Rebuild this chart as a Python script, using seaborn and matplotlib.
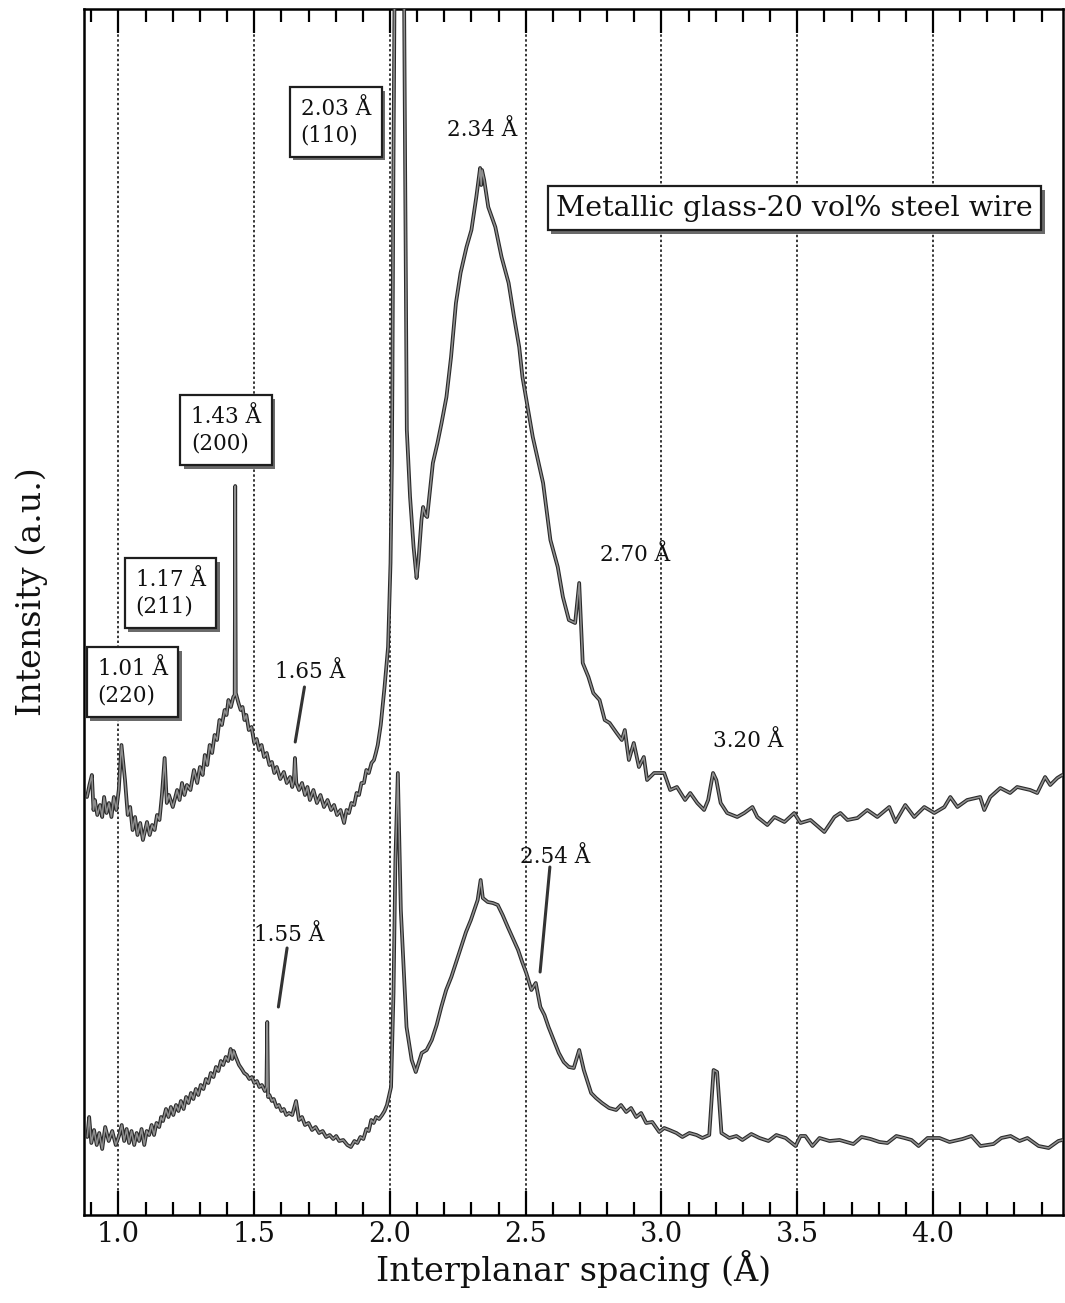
import matplotlib
matplotlib.use("Agg")
import matplotlib.pyplot as plt
import matplotlib.patheffects as pe
from matplotlib.ticker import FixedLocator
import pandas as pd
import seaborn as sns

# ---------------------------------------------------------------------------
# Diffraction profiles (d-spacing in Å, intensity in arbitrary units)
# ---------------------------------------------------------------------------
wire_d = [0.884, 0.893, 0.902, 0.908, 0.913, 0.922, 0.932, 0.940, 0.947, 0.956,
          0.965, 0.974, 0.983, 0.992, 1.001, 1.011, 1.024, 1.034, 1.043, 1.052,
          1.061, 1.070, 1.080, 1.090, 1.105, 1.115, 1.124, 1.133, 1.142, 1.151,
          1.160, 1.170, 1.178, 1.186, 1.200, 1.216, 1.225, 1.234, 1.243, 1.252,
          1.265, 1.278, 1.290, 1.300, 1.310, 1.318, 1.327, 1.336, 1.345, 1.354,
          1.363, 1.372, 1.381, 1.391, 1.398, 1.405, 1.414, 1.423, 1.428, 1.430,
          1.432, 1.442, 1.450, 1.457, 1.464, 1.471, 1.480, 1.490, 1.500, 1.509,
          1.518, 1.527, 1.536, 1.546, 1.556, 1.565, 1.574, 1.583, 1.596, 1.609,
          1.620, 1.632, 1.640, 1.646, 1.650, 1.655, 1.665, 1.676, 1.687, 1.696,
          1.705, 1.718, 1.731, 1.744, 1.757, 1.770, 1.783, 1.794, 1.805, 1.818,
          1.831, 1.840, 1.849, 1.858, 1.868, 1.877, 1.886, 1.895, 1.904, 1.913,
          1.922, 1.932, 1.941, 1.948, 1.955, 1.966, 1.980, 1.993, 2.002, 2.007,
          2.009, 2.012, 2.035, 2.055, 2.062, 2.074, 2.087, 2.098, 2.105, 2.116,
          2.122, 2.130, 2.137, 2.158, 2.175, 2.190, 2.208, 2.225, 2.243, 2.260,
          2.282, 2.300, 2.318, 2.332, 2.336, 2.339, 2.347, 2.362, 2.388, 2.411,
          2.437, 2.457, 2.476, 2.488, 2.507, 2.526, 2.545, 2.564, 2.591, 2.618,
          2.637, 2.659, 2.682, 2.697, 2.710, 2.731, 2.749, 2.772, 2.791, 2.809,
          2.835, 2.854, 2.865, 2.880, 2.898, 2.917, 2.935, 2.947, 2.973, 3.010,
          3.032, 3.057, 3.087, 3.106, 3.132, 3.157, 3.172, 3.190, 3.202, 3.218,
          3.242, 3.279, 3.305, 3.335, 3.353, 3.390, 3.416, 3.453, 3.489, 3.512,
          3.549, 3.600, 3.637, 3.659, 3.685, 3.722, 3.758, 3.795, 3.839, 3.862,
          3.898, 3.931, 3.968, 4.005, 4.042, 4.064, 4.090, 4.126, 4.174, 4.189,
          4.211, 4.248, 4.284, 4.310, 4.358, 4.384, 4.413, 4.432, 4.458, 4.476]
wire_int = [418, 430, 440, 405, 415, 400, 410, 398, 418, 402,
            412, 398, 418, 405, 425, 470, 435, 400, 408, 385,
            398, 380, 392, 375, 393, 380, 390, 385, 400, 395,
            420, 457, 412, 420, 408, 425, 415, 432, 420, 430,
            425, 445, 432, 448, 440, 460, 450, 470, 462, 480,
            475, 495, 490, 505, 500, 515, 508, 518, 520, 729,
            522, 512, 505, 508, 495, 500, 485, 488, 472, 476,
            465, 470, 458, 462, 450, 453, 442, 448, 436, 443,
            432, 438, 428, 435, 457, 432, 425, 432, 420, 428,
            415, 425, 412, 420, 408, 415, 405, 410, 400, 405,
            392, 405, 402, 412, 410, 422, 420, 432, 432, 445,
            442, 452, 455, 462, 470, 490, 528, 568, 652, 752,
            835, 1015, 2000, 1085, 785, 718, 668, 637, 655, 695,
            708, 700, 698, 752, 772, 792, 818, 858, 912, 942,
            968, 985, 1018, 1047, 1030, 1045, 1035, 1008, 988, 958,
            932, 898, 868, 838, 808, 778, 755, 732, 675, 648,
            618, 595, 592, 632, 552, 538, 522, 515, 495, 492,
            482, 475, 485, 455, 472, 448, 458, 435, 442, 442,
            425, 428, 415, 422, 412, 405, 415, 442, 435, 412,
            402, 398, 402, 408, 398, 390, 398, 393, 402, 392,
            395, 383, 398, 402, 395, 397, 405, 398, 408, 393,
            410, 398, 408, 402, 408, 418, 408, 415, 418, 405,
            418, 427, 422, 428, 425, 422, 438, 430, 437, 440]

glass_d = [0.885, 0.892, 0.900, 0.910, 0.920, 0.929, 0.940, 0.951, 0.964, 0.977,
           0.990, 1.003, 1.012, 1.021, 1.030, 1.039, 1.048, 1.058, 1.067, 1.076,
           1.085, 1.095, 1.104, 1.113, 1.122, 1.131, 1.140, 1.150, 1.157, 1.164,
           1.175, 1.184, 1.193, 1.202, 1.212, 1.221, 1.230, 1.240, 1.249, 1.258,
           1.267, 1.276, 1.285, 1.294, 1.303, 1.313, 1.322, 1.331, 1.340, 1.350,
           1.359, 1.368, 1.377, 1.386, 1.395, 1.404, 1.413, 1.419, 1.424, 1.432,
           1.444, 1.454, 1.463, 1.473, 1.482, 1.491, 1.500, 1.510, 1.519, 1.528,
           1.539, 1.545, 1.548, 1.551, 1.556, 1.565, 1.572, 1.582, 1.591, 1.600,
           1.609, 1.618, 1.628, 1.640, 1.654, 1.665, 1.676, 1.687, 1.700, 1.713,
           1.726, 1.739, 1.752, 1.765, 1.778, 1.791, 1.802, 1.813, 1.828, 1.843,
           1.856, 1.869, 1.880, 1.891, 1.902, 1.913, 1.922, 1.931, 1.940, 1.949,
           1.960, 1.971, 1.980, 1.989, 2.004, 2.013, 2.020, 2.029, 2.040, 2.061,
           2.080, 2.095, 2.117, 2.135, 2.154, 2.172, 2.189, 2.207, 2.226, 2.244,
           2.262, 2.280, 2.298, 2.313, 2.323, 2.334, 2.342, 2.360, 2.379, 2.397,
           2.415, 2.434, 2.452, 2.472, 2.487, 2.502, 2.521, 2.537, 2.554, 2.569,
           2.584, 2.603, 2.622, 2.640, 2.659, 2.677, 2.697, 2.714, 2.741, 2.759,
           2.781, 2.807, 2.833, 2.851, 2.870, 2.888, 2.907, 2.925, 2.944, 2.966,
           2.992, 3.010, 3.029, 3.055, 3.077, 3.103, 3.129, 3.151, 3.176, 3.192,
           3.205, 3.221, 3.250, 3.276, 3.298, 3.331, 3.361, 3.394, 3.423, 3.457,
           3.494, 3.512, 3.530, 3.556, 3.582, 3.619, 3.656, 3.707, 3.737, 3.770,
           3.803, 3.832, 3.865, 3.895, 3.921, 3.947, 3.980, 4.024, 4.061, 4.109,
           4.142, 4.175, 4.223, 4.252, 4.286, 4.319, 4.348, 4.389, 4.426, 4.462,
           4.476]
glass_int = [78, 98, 72, 85, 70, 82, 66, 88, 74, 84,
             70, 80, 90, 74, 86, 72, 84, 70, 82, 74,
             86, 70, 84, 80, 90, 80, 92, 88, 98, 94,
             106, 98, 108, 100, 110, 104, 114, 106, 118, 112,
             122, 116, 126, 120, 130, 126, 136, 132, 142, 138,
             148, 144, 154, 150, 158, 154, 166, 156, 164, 158,
             150, 146, 142, 140, 136, 138, 132, 134, 128, 130,
             124, 128, 193, 118, 120, 114, 116, 108, 110, 104,
             106, 100, 102, 100, 114, 95, 98, 90, 92, 85,
             88, 82, 84, 78, 80, 76, 79, 74, 75, 70,
             68, 74, 72, 78, 76, 86, 84, 95, 92, 98,
             96, 100, 104, 110, 128, 222, 355, 442, 305, 188,
             155, 143, 162, 165, 175, 190, 208, 225, 238, 253,
             268, 283, 295, 307, 315, 335, 317, 313, 312, 310,
             300, 288, 277, 265, 253, 242, 225, 232, 208, 200,
             188, 175, 162, 153, 148, 147, 165, 145, 122, 117,
             112, 107, 105, 110, 103, 107, 98, 102, 92, 93,
             83, 87, 85, 82, 78, 82, 80, 77, 80, 145,
             143, 82, 77, 79, 75, 81, 77, 74, 80, 77,
             69, 79, 79, 69, 77, 74, 75, 71, 78, 76,
             73, 72, 79, 77, 75, 69, 77, 77, 73, 76,
             79, 69, 71, 77, 79, 74, 77, 69, 67, 74,
             75]

# Peak labels
boxed_peaks = [("2.03 Å\n(110)", 1.800, 1093),
               ("1.43 Å\n(200)", 1.396, 785),
               ("1.17 Å\n(211)", 1.192, 622),
               ("1.01 Å\n(220)", 1.052, 533)]
plain_peaks = [("2.34 Å", 2.338, 1085),
               ("2.70 Å", 2.903, 660),
               ("3.20 Å", 3.320, 474)]
leader_peaks = [("1.65 Å", 1.705, 543, (1.685, 528), (1.651, 473)),
                ("1.55 Å", 1.630, 280, (1.621, 267), (1.589, 208)),
                ("2.54 Å", 2.610, 358, (2.589, 348), (2.553, 243))]
sample_name = "Metallic glass-20 vol% steel wire"

major_ticks = [1.0, 1.5, 2.0, 2.5, 3.0, 3.5, 4.0]
minor_ticks = [0.9, 1.1, 1.2, 1.3, 1.4, 1.6, 1.7, 1.8, 1.9, 2.1, 2.2, 2.3, 2.4,
               2.6, 2.7, 2.8, 2.9, 3.1, 3.2, 3.3, 3.4, 3.6, 3.7, 3.8, 3.9,
               4.1, 4.2, 4.3, 4.4]

# ---------------------------------------------------------------------------
sns.set_theme(style="white")
plt.rcParams["font.family"] = ["DejaVu Serif", "DejaVu Sans"]
plt.rcParams["axes.unicode_minus"] = False

fig = plt.figure(figsize=(10.65, 13.03), dpi=100)
fig.patch.set_facecolor("white")
ax = fig.add_axes([84 / 1065, 1 - 1215 / 1303, (1063 - 84) / 1065, (1215 - 9) / 1303])

wire = pd.DataFrame({"d": wire_d, "I": wire_int})
glass = pd.DataFrame({"d": glass_d, "I": glass_int})

# grey trace with a dark rim, as in a scanned pen plot
curve_fx = [pe.Stroke(linewidth=2.7, foreground="#2a2a2a"), pe.Normal()]
for df in (wire, glass):
    sns.lineplot(data=df, x="d", y="I", sort=False, estimator=None,
                 color="#8f8f8f", lw=1.1, ax=ax, path_effects=curve_fx,
                 zorder=3)

for d in major_ticks:
    ax.axvline(d, color="black", lw=1.1, ls=(0, (1.6, 1.6)), zorder=1)

ax.set_xlim(0.873, 4.479)
ax.set_ylim(0, 1206)
ax.set_yticks([])
ax.set_xticks(major_ticks)
ax.set_xticklabels([f"{t:.1f}" for t in major_ticks])
ax.xaxis.set_minor_locator(FixedLocator(minor_ticks))
ax.tick_params(axis="x", which="major", direction="in", length=17, width=1.6,
               top=True, bottom=True, labelsize=19.5, pad=4, color="black",
               labelcolor="#111")
ax.tick_params(axis="x", which="minor", direction="in", length=9.5, width=1.6,
               top=True, bottom=True, color="black")
for sp in ax.spines.values():
    sp.set_color("black")
    sp.set_linewidth(1.8)

ax.set_xlabel("Interplanar spacing (Å)", fontsize=24, labelpad=2, color="#111")
ax.set_ylabel("Intensity (a.u.)", fontsize=24, color="#111")
ax.yaxis.set_label_coords(-0.037, 0.517)

shadow_fx = [pe.SimplePatchShadow(offset=(2.6, -2.6), shadow_rgbFace="#6a6a6a",
                                  alpha=1.0), pe.Normal()]


def boxed(text, x, y, size, pad, spacing):
    t = ax.text(x, y, text, ha="center", va="center", multialignment="left",
                fontsize=size, linespacing=spacing, color="#111", zorder=6,
                bbox=dict(boxstyle=f"square,pad={pad}", fc="white",
                          ec="#1e1e1e", lw=1.6))
    t.get_bbox_patch().set_path_effects(shadow_fx)
    return t


for text, x, y in boxed_peaks:
    boxed(text, x, y, 15.5, 0.5, 1.25)
boxed(sample_name, 3.490, 1007, 20.5, 0.3, 1.0)

for text, x, y in plain_peaks:
    ax.text(x, y, text, ha="center", va="center", fontsize=15.5,
            color="#111", zorder=5)

for text, x, y, start, end in leader_peaks:
    ax.text(x, y, text, ha="center", va="center", fontsize=15.5,
            color="#111", zorder=5)
    ax.annotate("", xy=end, xytext=start,
                arrowprops=dict(arrowstyle="-", lw=2.2, color="#333",
                                shrinkA=0, shrinkB=0), zorder=5)

fig.savefig("out.png", dpi=100, facecolor="white")
